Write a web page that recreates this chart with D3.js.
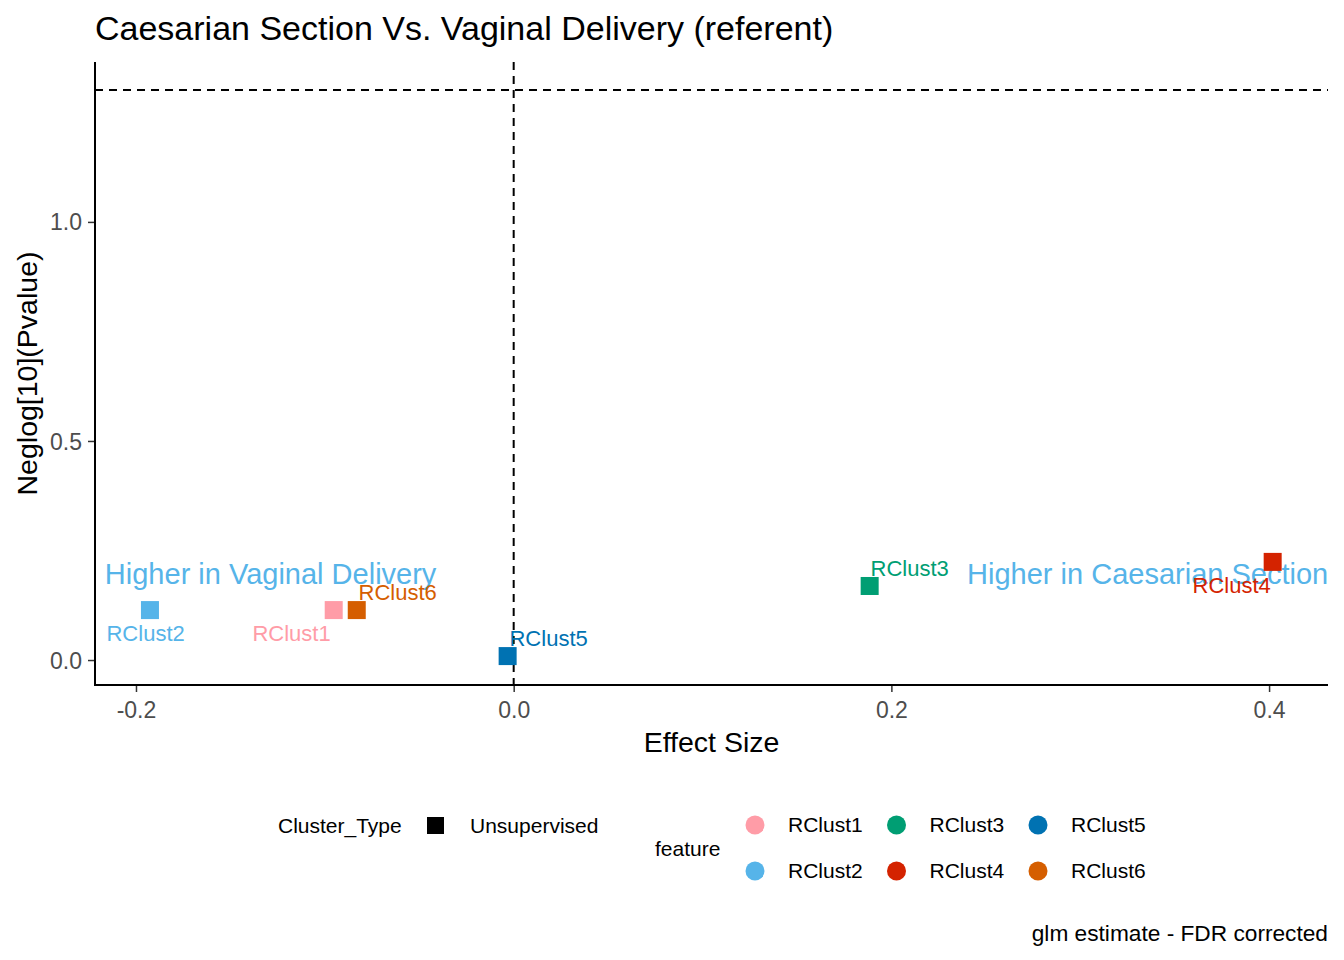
<!DOCTYPE html>
<html><head><meta charset="utf-8">
<script src="https://cdn.jsdelivr.net/npm/d3@7"></script>
<style>body{margin:0;background:#fff;} text{font-family:"Liberation Sans",Arial,sans-serif;}</style>
</head><body>
<svg id="chart" width="1344" height="960"></svg>
<script>
// ---- data ----
const features = ["RClust1","RClust2","RClust3","RClust4","RClust5","RClust6"];
const featureColors = ["#FF9CA7","#56B4E9","#009E73","#D42300","#0072B2","#D55E00"];
const effectSize = [-0.0953, -0.1926, 0.1885, 0.4019, -0.0032, -0.0831];
const negLogP   = [0.114, 0.114, 0.169, 0.224, 0.009, 0.114];
// repelled label anchor positions (data units)
const labelX = [-0.1176, -0.1949, 0.2097, 0.3802, 0.0185, -0.0614];
const labelY = [0.0616, 0.0616, 0.210, 0.171, 0.050, 0.155];
const xTicks = [-0.2, 0.0, 0.2, 0.4];
const yTicks = [0.0, 0.5, 1.0];
const sigLine = -Math.log10(0.05);
const annotations = [
  {text:"Higher in Vaginal Delivery", x:-0.1287, y:0.196},
  {text:"Higher in Caesarian Section", x:0.3357, y:0.196}
];
const clusterTypes = ["Unsupervised"];

// ---- layout ----
const svg = d3.select("#chart");
const L = 95, R = 1328, T = 62, B = 685;
const x = d3.scaleLinear().domain([-0.2217, 0.4312]).range([L, R]);
const y = d3.scaleLinear().domain([-0.057, 1.365]).range([B, T]);
const color = d3.scaleOrdinal().domain(features).range(featureColors);
const fmt = d => d3.format(".1f")(d).replace("\u2212", "-");

// title
svg.append("text").attr("x", 95).attr("y", 40).attr("font-size", 34).attr("fill", "#000")
  .text("Caesarian Section Vs. Vaginal Delivery (referent)");

// reference lines
svg.append("line").attr("x1", L).attr("x2", R).attr("y1", y(sigLine)).attr("y2", y(sigLine))
  .attr("stroke", "#000").attr("stroke-width", 2).attr("stroke-dasharray", "8,6");
svg.append("line").attr("x1", x(0)).attr("x2", x(0)).attr("y1", T).attr("y2", B)
  .attr("stroke", "#000").attr("stroke-width", 2).attr("stroke-dasharray", "8,6");

// axes
const xAxis = svg.append("g").attr("transform", `translate(0,${B})`)
  .call(d3.axisBottom(x).tickValues(xTicks).tickFormat(fmt).tickSize(7).tickSizeOuter(0));
const yAxis = svg.append("g").attr("transform", `translate(${L},0)`)
  .call(d3.axisLeft(y).tickValues(yTicks).tickFormat(fmt).tickSize(7).tickSizeOuter(0));
[xAxis, yAxis].forEach(g => {
  g.select(".domain").remove();
  g.selectAll(".tick line").attr("stroke", "#333").attr("stroke-width", 1.5);
  g.selectAll(".tick text").attr("fill", "#4D4D4D").attr("font-size", 23)
    .style("font-family", '"Liberation Sans",Arial,sans-serif');
});
xAxis.selectAll(".tick text").attr("dy", null).attr("y", 33);
yAxis.selectAll(".tick text").attr("x", -13).attr("dy", "0.35em");
svg.append("line").attr("x1", L).attr("x2", L).attr("y1", T).attr("y2", B + 1).attr("stroke", "#000").attr("stroke-width", 2);
svg.append("line").attr("x1", L - 1).attr("x2", R).attr("y1", B).attr("y2", B).attr("stroke", "#000").attr("stroke-width", 2);

// axis titles
svg.append("text").attr("x", (L + R) / 2).attr("y", 752).attr("text-anchor", "middle")
  .attr("font-size", 28.5).text("Effect Size");
svg.append("text").attr("transform", `translate(37,${(T + B) / 2}) rotate(-90)`)
  .attr("text-anchor", "middle").attr("font-size", 28.5).text("Neglog[10](Pvalue)");

// annotations
svg.selectAll(".annot").data(annotations).enter().append("text")
  .attr("x", d => x(d.x)).attr("y", d => y(d.y)).attr("dy", "0.35em")
  .attr("text-anchor", "middle").attr("font-size", 29).attr("fill", "#56B4E9").text(d => d.text);

// points
const pts = features.map((f, i) => ({f, ex: effectSize[i], p: negLogP[i], lx: labelX[i], ly: labelY[i]}));
const sq = 18;
svg.selectAll(".pt").data(pts).enter().append("rect")
  .attr("x", d => x(d.ex) - sq / 2).attr("y", d => y(d.p) - sq / 2)
  .attr("width", sq).attr("height", sq).attr("fill", d => color(d.f));
svg.selectAll(".lbl").data(pts).enter().append("text")
  .attr("x", d => x(d.lx)).attr("y", d => y(d.ly)).attr("dy", "0.35em")
  .attr("text-anchor", "middle").attr("font-size", 22).attr("fill", d => color(d.f)).text(d => d.f);

// legend: Cluster_Type
svg.append("text").attr("x", 278).attr("y", 826).attr("dy", "0.35em").attr("font-size", 21).text("Cluster_Type");
clusterTypes.forEach((c, i) => {
  svg.append("rect").attr("x", 427).attr("y", 817).attr("width", 17).attr("height", 17).attr("fill", "#000");
  svg.append("text").attr("x", 470).attr("y", 826).attr("dy", "0.35em").attr("font-size", 21).text(c);
});
// legend: feature
svg.append("text").attr("x", 655).attr("y", 849).attr("dy", "0.35em").attr("font-size", 21).text("feature");
features.forEach((f, i) => {
  const col = Math.floor(i / 2), row = i % 2;
  const cx = 755 + col * 141.5, cy = 825 + row * 46;
  svg.append("circle").attr("cx", cx).attr("cy", cy).attr("r", 9.5).attr("fill", color(f));
  svg.append("text").attr("x", cx + 33).attr("y", cy).attr("dy", "0.35em").attr("font-size", 21).text(f);
});

// caption
svg.append("text").attr("x", 1328).attr("y", 933).attr("dy", "0.35em").attr("text-anchor", "end")
  .attr("font-size", 22.7).text("glm estimate - FDR corrected");
</script>
</body></html>
